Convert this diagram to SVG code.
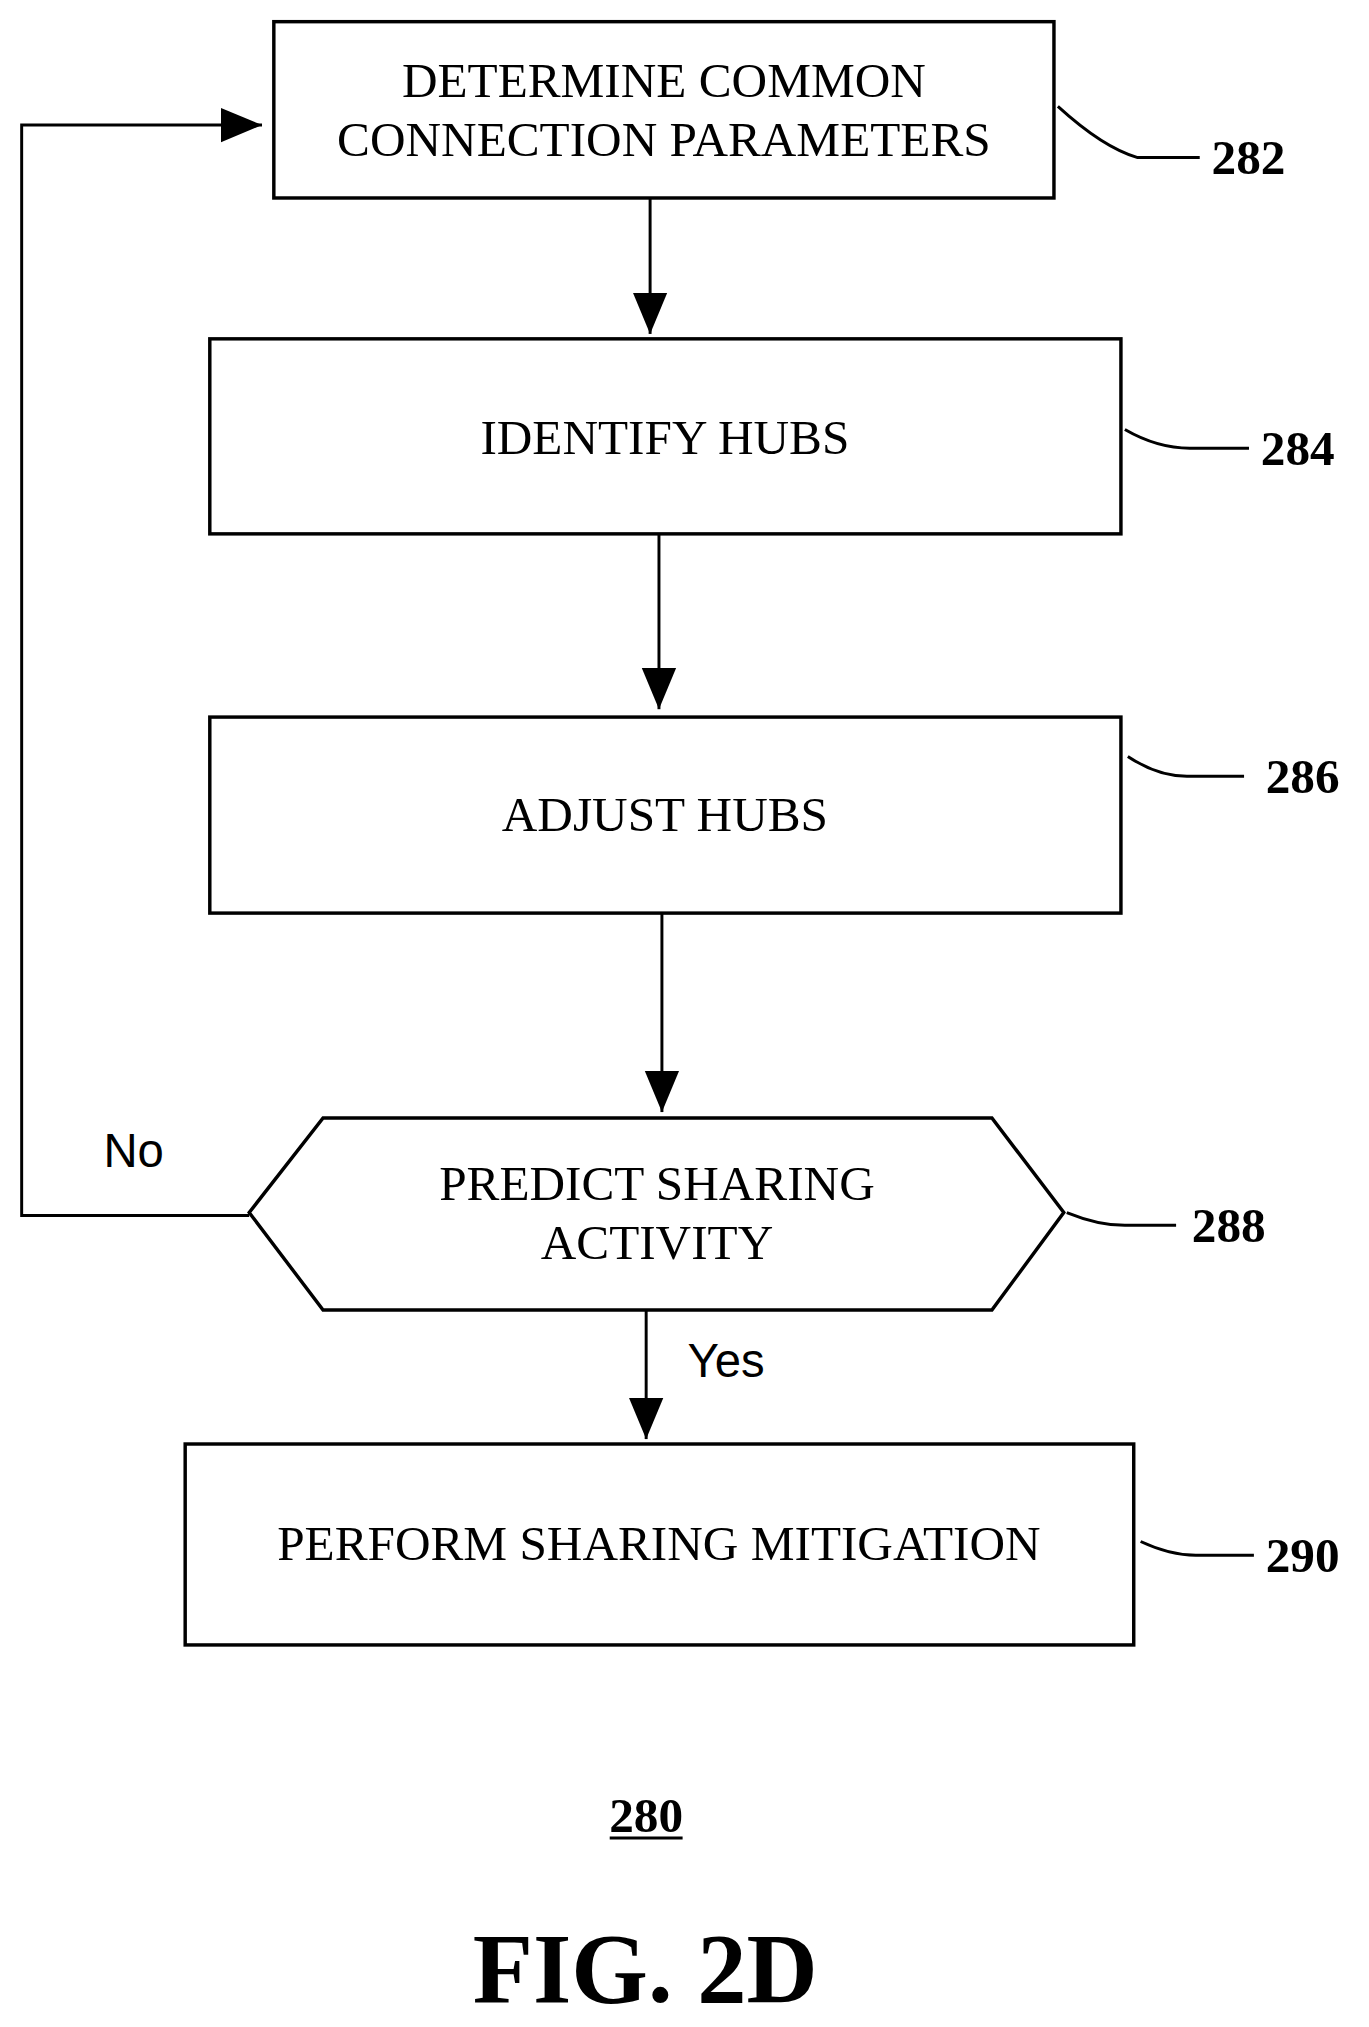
<svg xmlns="http://www.w3.org/2000/svg" width="1369" height="2027" viewBox="0 0 1369 2027">
<style>
.box{fill:#fff;stroke:#000;stroke-width:3.5}
.t{font-family:"Liberation Serif",serif;font-size:50px;text-anchor:middle}
.ref{font-family:"Liberation Serif",serif;font-size:50px;font-weight:bold}
.s{font-family:"Liberation Sans",sans-serif;font-size:48px}
.c{fill:none;stroke:#000;stroke-width:3}
</style>
<defs>
<marker id="ah" viewBox="0 0 12 10" refX="12" refY="5" markerWidth="14" markerHeight="13" orient="auto"><path d="M0,0L12,5L0,10z"/></marker></defs>
<rect width="1369" height="2027" fill="#fff"/>
<g transform="scale(0.985)">
<g id="connectors">
<path class="c" d="M660,201V339" marker-end="url(#ah)"/>
<path class="c" d="M669,542V720" marker-end="url(#ah)"/>
<path class="c" d="M672,927V1129" marker-end="url(#ah)"/>
<path class="c" d="M656,1330V1461" marker-end="url(#ah)"/>
<path class="c" d="M253,1234H22V127H266" marker-end="url(#ah)"/>
<text class="s" x="105" y="1185">No</text>
<text class="s" x="698" y="1398">Yes</text>
</g>
<g id="n282"><rect class="box" x="278" y="22" width="792" height="179"/>
<text class="t" x="674" y="98">DETERMINE COMMON</text><text class="t" x="674" y="158">CONNECTION PARAMETERS</text>
<path class="c" d="M1074,108Q1120,150 1155,160H1218"/><text class="ref" x="1230" y="177">282</text></g>
<g id="n284"><rect class="box" x="213" y="344" width="925" height="198"/>
<text class="t" x="675" y="461">IDENTIFY HUBS</text>
<path class="c" d="M1142,436Q1175,455 1208,455H1268"/><text class="ref" x="1280" y="472">284</text></g>
<g id="n286"><rect class="box" x="213" y="728" width="925" height="199"/>
<text class="t" x="675" y="844">ADJUST HUBS</text>
<path class="c" d="M1145,768Q1175,788 1205,788H1263"/><text class="ref" x="1285" y="805">286</text></g>
<g id="n288"><polygon class="box" points="253,1231 328,1135 1007,1135 1080,1231 1007,1330 328,1330"/>
<text class="t" x="667" y="1218">PREDICT SHARING</text><text class="t" x="667" y="1278">ACTIVITY</text>
<path class="c" d="M1083,1231Q1115,1244 1142,1244H1194"/><text class="ref" x="1210" y="1261">288</text></g>
<g id="n290"><rect class="box" x="188" y="1466" width="963" height="204"/>
<text class="t" x="669" y="1584">PERFORM SHARING MITIGATION</text>
<path class="c" d="M1158,1565Q1188,1579 1214,1579H1273"/><text class="ref" x="1285" y="1596">290</text></g>
<g id="caption">
<text class="ref" x="656" y="1860" text-anchor="middle" font-size="45">280</text>
<line x1="619" y1="1866" x2="693" y2="1866" stroke="#000" stroke-width="3"/>
<text x="655" y="2032" text-anchor="middle" font-family="Liberation Serif,serif" font-weight="bold" font-size="100">FIG. 2D</text>
</g>
</g>
</svg>
